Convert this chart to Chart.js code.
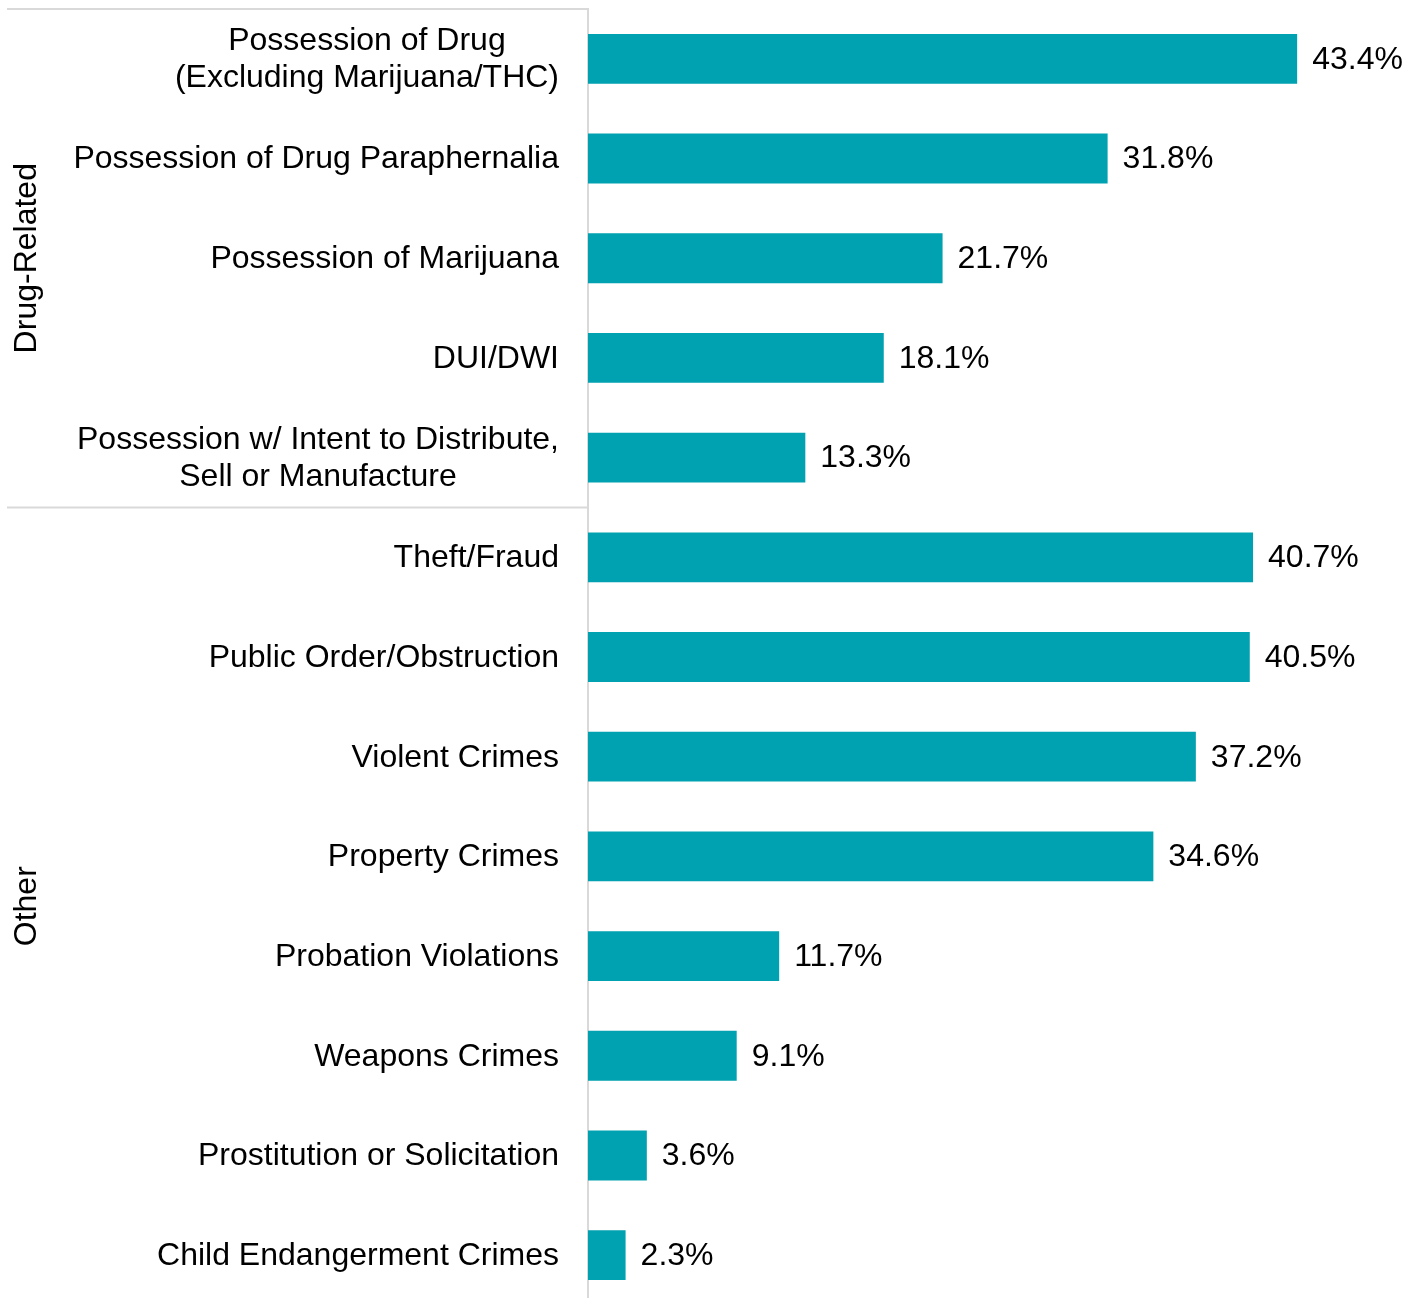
<!DOCTYPE html>
<html>
<head>
<meta charset="utf-8">
<script src="https://cdn.jsdelivr.net/npm/chart.js@4"></script>
<style>
  body { margin: 0; background: #fff; overflow: hidden; }
</style>
</head>
<body>
<canvas id="offenses" width="1417" height="1306"></canvas>
<script>
/* categories, top to bottom */
const categories = [
    ['Possession of Drug', '(Excluding Marijuana/THC)'],
    'Possession of Drug Paraphernalia',
    'Possession of Marijuana',
    'DUI/DWI',
    ['Possession w/ Intent to Distribute,', 'Sell or Manufacture'],
    'Theft/Fraud',
    'Public Order/Obstruction',
    'Violent Crimes',
    'Property Crimes',
    'Probation Violations',
    'Weapons Crimes',
    'Prostitution or Solicitation',
    'Child Endangerment Crimes'
];
const percentValues = [43.4, 31.8, 21.7, 18.1, 13.3, 40.7, 40.5, 37.2, 34.6, 11.7, 9.1, 3.6, 2.3];
const groupNames = ['Drug-Related', 'Other'];
const groupSizes = [5, 8];

const FONT = '32px "Liberation Sans", Arial, sans-serif';
const LINE_GREY = '#d9d9d9';

// labels, values and group brackets drawn on top of the bars
const labelPlugin = {
    id: 'labelPlugin',
    afterDatasetsDraw(chart) {
        const ctx = chart.ctx;
        const area = chart.chartArea;
        const yScale = chart.scales.y;
        const meta = chart.getDatasetMeta(0);
        ctx.save();
        ctx.font = FONT;
        ctx.fillStyle = '#000';
        ctx.textBaseline = 'middle';

        // category labels (multi-line ones are centred on each other)
        categories.forEach(function(lab, i) {
            const lines = Array.isArray(lab) ? lab : [lab];
            const y = yScale.getPixelForValue(i);
            let w = 0;
            lines.forEach(function(l) { w = Math.max(w, ctx.measureText(l).width); });
            const cx = area.left - 29 - w / 2;
            ctx.textAlign = 'center';
            lines.forEach(function(l, j) {
                ctx.fillText(l, cx, y + (j - (lines.length - 1) / 2) * 36.5 + 1);
            });
        });

        // value labels
        ctx.textAlign = 'left';
        meta.data.forEach(function(bar, i) {
            ctx.fillText(percentValues[i].toFixed(1) + '%', bar.x + 15, bar.y + 1);
        });

        // group brackets
        ctx.strokeStyle = LINE_GREY;
        ctx.lineWidth = 2;
        let start = 0;
        groupSizes.forEach(function(n, g) {
            const top = start === 0 ? area.top : (yScale.getPixelForValue(start - 1) + yScale.getPixelForValue(start)) / 2;
            const end = start + n;
            const bottom = end >= categories.length ? area.bottom : (yScale.getPixelForValue(end - 1) + yScale.getPixelForValue(end)) / 2;
            ctx.beginPath();
            ctx.moveTo(7, top);
            ctx.lineTo(area.left, top);
            ctx.stroke();

            ctx.save();
            ctx.translate(27, (top + bottom) / 2);
            ctx.rotate(-Math.PI / 2);
            ctx.textAlign = 'center';
            ctx.fillText(groupNames[g], 0, 0);
            ctx.restore();
            start = end;
        });
        ctx.restore();
    }
};

const ctx_offenses = document.getElementById('offenses').getContext('2d');
const offenseChart = new Chart(ctx_offenses, {
    type: 'bar',
    data: {
        labels: categories,
        datasets: [{
            label: 'Share',
            data: percentValues,
            backgroundColor: '#00a1b0',
            borderWidth: 0,
            categoryPercentage: 1,
            barPercentage: 0.5
        }]
    },
    options: {
        indexAxis: 'y',
        responsive: false,
        animation: false,
        layout: {
            padding: { top: 9, right: 12, bottom: 1, left: 0 }
        },
        plugins: {
            legend: { display: false },
            tooltip: { enabled: false }
        },
        scales: {
            x: {
                display: false,
                min: 0,
                max: 50
            },
            y: {
                ticks: { display: false },
                grid: { display: false, drawTicks: false },
                border: { display: true, color: LINE_GREY, width: 2 },
                afterFit: function(scale) { scale.width = 588; }
            }
        }
    },
    plugins: [labelPlugin]
});
</script>
</body>
</html>
